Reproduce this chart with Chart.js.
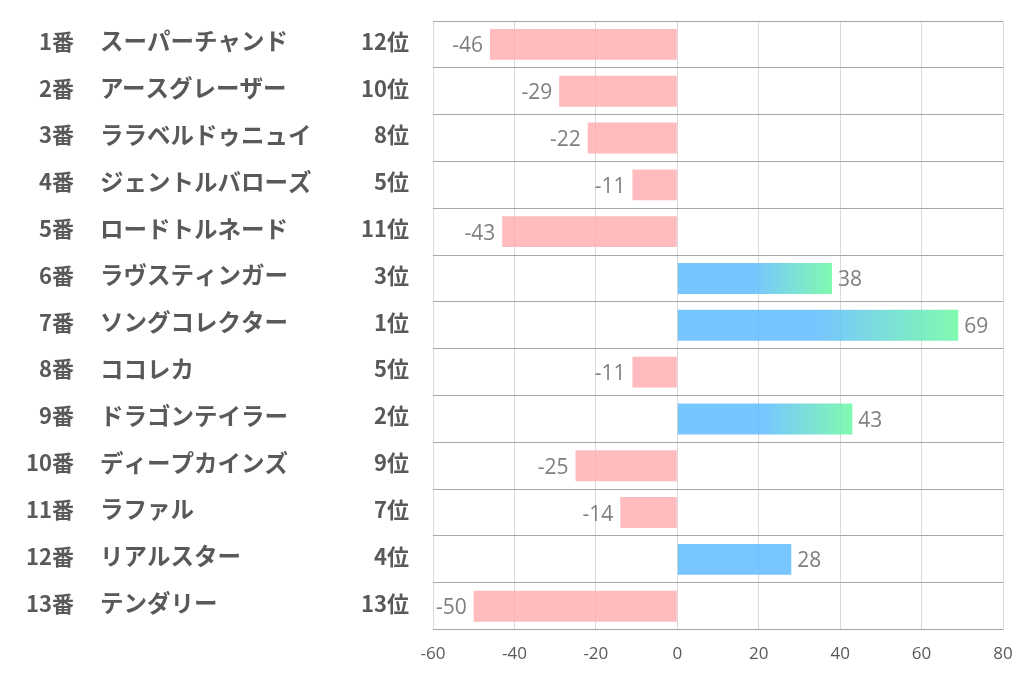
<!DOCTYPE html>
<html>
<head>
<meta charset="utf-8">
<script src="https://cdn.jsdelivr.net/npm/chart.js@4"></script>
<style>
	html, body { margin: 0; padding: 0; background: #fff; }
	.wrap { width: 1022px; height: 678px; position: relative; }
</style>
</head>
<body>
<div class="wrap"><canvas id="myChart"></canvas></div>
<script>
/* Data */
const numbers = ['1番', '2番', '3番', '4番', '5番', '6番', '7番', '8番', '9番', '10番', '11番', '12番', '13番']
const horses = [
	'スーパーチャンド',
	'アースグレーザー',
	'ララベルドゥニュイ',
	'ジェントルバローズ',
	'ロードトルネード',
	'ラヴスティンガー',
	'ソングコレクター',
	'ココレカ',
	'ドラゴンテイラー',
	'ディープカインズ',
	'ラファル',
	'リアルスター',
	'テンダリー',
]
const ranks = ['12位', '10位', '8位', '5位', '11位', '3位', '1位', '5位', '2位', '9位', '7位', '4位', '13位']
const scores = [-46, -29, -22, -11, -43, 38, 69, -11, 43, -25, -14, 28, -50]
const xTicks = [-60, -40, -20, 0, 20, 40, 60, 80]

const PINK = 'rgba(255,172,175,0.82)'
const BLUE = 'rgba(96,188,255,0.85)'
const GREEN = 'rgba(106,249,162,0.85)'

function barColor(context) {
	const i = context.dataIndex
	const v = scores[i]
	if (v < 0) return PINK
	const chart = context.chart
	if (!chart.chartArea || parseInt(ranks[i]) > 3) return BLUE
	const xs = chart.scales.x
	const x0 = xs.getPixelForValue(0)
	const x1 = xs.getPixelForValue(v)
	const g = chart.ctx.createLinearGradient(x0, 0, x1, 0)
	g.addColorStop(0, BLUE)
	g.addColorStop(0.5, BLUE)
	g.addColorStop(1, GREEN)
	return g
}

/* Left-side label columns */
const rowLabels = {
	id: 'rowLabels',
	afterDraw(chart) {
		const ctx = chart.ctx
		const ys = chart.scales.y
		ctx.save()
		ctx.fillStyle = '#595959'
		ctx.textBaseline = 'middle'
		horses.forEach((name, i) => {
			const y = ys.getPixelForValue(i) - 3
			ctx.font = 'bold 22px "Noto Sans CJK JP"'
			ctx.textAlign = 'right'
			ctx.fillText(numbers[i], 74, y)
			ctx.fillText(ranks[i], 409, y)
			ctx.font = 'bold 23.5px "Noto Sans CJK JP"'
			ctx.textAlign = 'left'
			ctx.fillText(name, 100, y)
		})
		ctx.restore()
	},
}

/* Value labels */
const valueLabels = {
	id: 'valueLabels',
	afterDatasetsDraw(chart) {
		const ctx = chart.ctx
		const meta = chart.getDatasetMeta(0)
		ctx.save()
		ctx.font = '21px "Open Sans"'
		ctx.fillStyle = '#7f7f7f'
		ctx.textBaseline = 'middle'
		meta.data.forEach((bar, i) => {
			const v = scores[i]
			if (v < 0) {
				ctx.textAlign = 'right'
				ctx.fillText(v, bar.x - 7, bar.y + 2)
			} else {
				ctx.textAlign = 'left'
				ctx.fillText(v, bar.x + 6, bar.y + 2)
			}
		})
		ctx.restore()
	},
}

const ctx = document.getElementById('myChart')

new Chart(ctx, {
	type: 'bar',
	data: {
		labels: horses,
		datasets: [
			{
				data: scores,
				backgroundColor: barColor,
				borderWidth: 0,
				categoryPercentage: 1,
				barPercentage: 0.66,
			},
		],
	},
	options: {
		indexAxis: 'y',
		responsive: true,
		maintainAspectRatio: false,
		animation: false,
		layout: {
			padding: { left: 433, right: 19, top: 21, bottom: 0 },
		},
		plugins: {
			legend: { display: false },
			tooltip: { enabled: false },
		},
		scales: {
			x: {
				min: -60,
				max: 80,
				afterBuildTicks: (axis) => {
					axis.ticks = xTicks.map((v) => ({ value: v }))
				},
				afterFit: (axis) => {
					axis.paddingLeft = 0
					axis.paddingRight = 0
				},
				grid: { color: '#d9d9d9', drawTicks: false },
				border: { display: false },
				ticks: {
					color: '#595959',
					padding: 14,
					font: { family: '"Open Sans"', size: 17 },
				},
			},
			y: {
				grid: { offset: true, color: '#a6a6a6', drawTicks: false },
				border: { display: false },
				ticks: { display: false },
			},
		},
	},
	plugins: [rowLabels, valueLabels],
})
</script>
</body>
</html>
